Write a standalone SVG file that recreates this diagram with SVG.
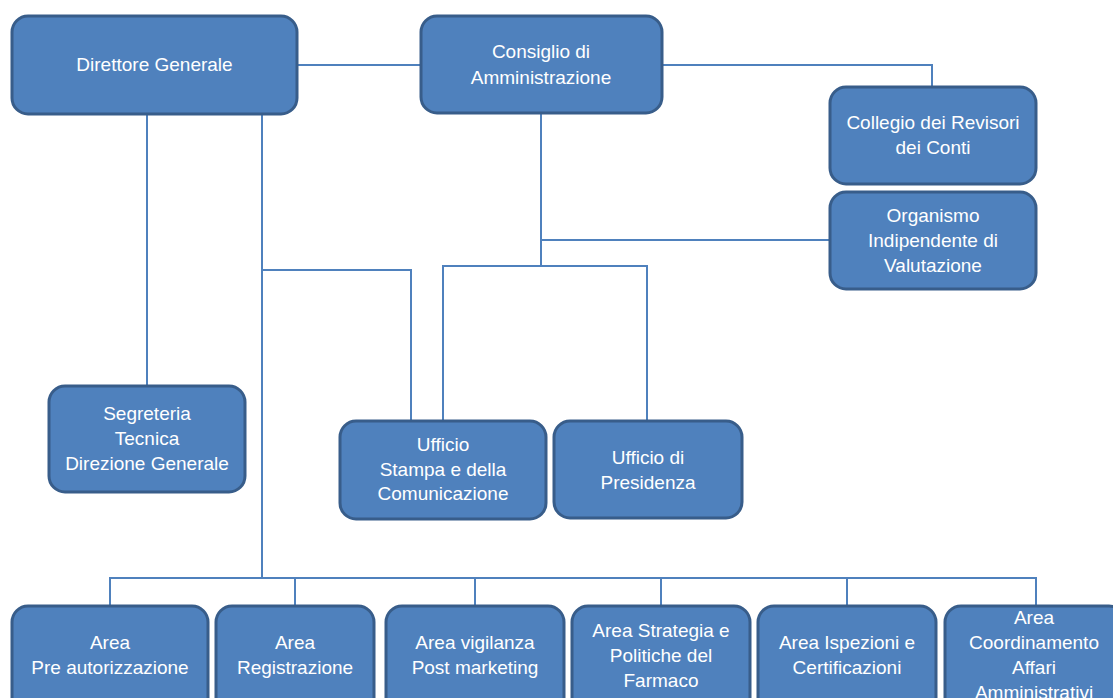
<svg xmlns="http://www.w3.org/2000/svg" width="1113" height="698" viewBox="0 0 1113 698">
  <style>
    .box { fill: #4F81BD; stroke: #385D8A; stroke-width: 3; }
    .lbl { font-family: "Liberation Sans", Arial, sans-serif; font-size: 19px; fill: #FFFFFF; text-anchor: middle; }
    .wire { fill: none; stroke: #4F81BD; stroke-width: 2; }
  </style>
  <rect width="1113" height="698" fill="#FFFFFF"/>

  <!-- connectors -->
  <g id="connectors" class="wire">
    <path d="M297 65 H421"/>
    <path d="M662 65 H932 V87"/>
    <path d="M541 113 V266"/>
    <path d="M541 240 H830"/>
    <path d="M443 421 V266 H647 V421"/>
    <path d="M147 114 V386"/>
    <path d="M262 114 V578"/>
    <path d="M262 270 H411 V421"/>
    <path d="M110 606 V578 H1036 V606"/>
    <path d="M295 578 V606"/>
    <path d="M475 578 V606"/>
    <path d="M661 578 V606"/>
    <path d="M847 578 V606"/>
  </g>

  <!-- top level -->
  <g id="direttore-generale">
    <rect class="box" x="12" y="16" width="285" height="98" rx="16"/>
    <text class="lbl" x="154.5" y="71">Direttore Generale</text>
  </g>
  <g id="consiglio-amministrazione">
    <rect class="box" x="421" y="16" width="241" height="97" rx="16"/>
    <text class="lbl" x="541" y="58">Consiglio di</text>
    <text class="lbl" x="541" y="84">Amministrazione</text>
  </g>
  <g id="collegio-revisori">
    <rect class="box" x="830" y="87" width="206" height="97" rx="16"/>
    <text class="lbl" x="933" y="129">Collegio dei Revisori</text>
    <text class="lbl" x="933" y="154">dei Conti</text>
  </g>
  <g id="organismo-valutazione">
    <rect class="box" x="830" y="192" width="206" height="97" rx="16"/>
    <text class="lbl" x="933" y="222">Organismo</text>
    <text class="lbl" x="933" y="247">Indipendente di</text>
    <text class="lbl" x="933" y="272">Valutazione</text>
  </g>

  <!-- staff offices -->
  <g id="segreteria-tecnica">
    <rect class="box" x="49" y="386" width="196" height="106" rx="16"/>
    <text class="lbl" x="147" y="420">Segreteria</text>
    <text class="lbl" x="147" y="445">Tecnica</text>
    <text class="lbl" x="147" y="470">Direzione Generale</text>
  </g>
  <g id="ufficio-stampa">
    <rect class="box" x="340" y="421" width="206" height="98" rx="16"/>
    <text class="lbl" x="443" y="451">Ufficio</text>
    <text class="lbl" x="443" y="476">Stampa e della</text>
    <text class="lbl" x="443" y="500">Comunicazione</text>
  </g>
  <g id="ufficio-presidenza">
    <rect class="box" x="554" y="421" width="188" height="97" rx="16"/>
    <text class="lbl" x="648" y="464">Ufficio di</text>
    <text class="lbl" x="648" y="489">Presidenza</text>
  </g>

  <!-- areas -->
  <g id="area-pre-autorizzazione">
    <rect class="box" x="12" y="606" width="196" height="110" rx="16"/>
    <text class="lbl" x="110" y="649">Area</text>
    <text class="lbl" x="110" y="674">Pre autorizzazione</text>
  </g>
  <g id="area-registrazione">
    <rect class="box" x="216" y="606" width="158" height="110" rx="16"/>
    <text class="lbl" x="295" y="649">Area</text>
    <text class="lbl" x="295" y="674">Registrazione</text>
  </g>
  <g id="area-vigilanza">
    <rect class="box" x="386" y="606" width="178" height="110" rx="16"/>
    <text class="lbl" x="475" y="649">Area vigilanza</text>
    <text class="lbl" x="475" y="674">Post marketing</text>
  </g>
  <g id="area-strategia">
    <rect class="box" x="572" y="606" width="178" height="110" rx="16"/>
    <text class="lbl" x="661" y="637">Area Strategia e</text>
    <text class="lbl" x="661" y="662">Politiche del</text>
    <text class="lbl" x="661" y="687">Farmaco</text>
  </g>
  <g id="area-ispezioni">
    <rect class="box" x="758" y="606" width="178" height="110" rx="16"/>
    <text class="lbl" x="847" y="649">Area Ispezioni e</text>
    <text class="lbl" x="847" y="674">Certificazioni</text>
  </g>
  <g id="area-coordinamento">
    <rect class="box" x="945" y="606" width="180" height="110" rx="16"/>
    <text class="lbl" x="1034" y="624">Area</text>
    <text class="lbl" x="1034" y="649">Coordinamento</text>
    <text class="lbl" x="1034" y="674">Affari</text>
    <text class="lbl" x="1034" y="699">Amministrativi</text>
  </g>
</svg>
